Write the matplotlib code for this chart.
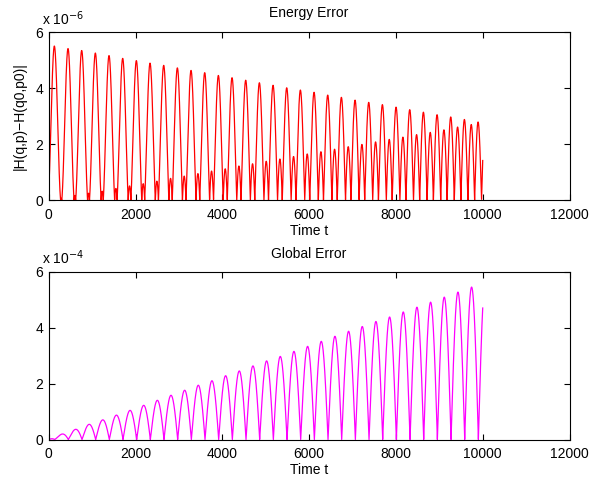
import numpy as np
import matplotlib
matplotlib.use("Agg")
import matplotlib.pyplot as plt

plt.rcParams['font.family'] = ['Liberation Sans', 'DejaVu Sans']
plt.rcParams['font.size'] = 10

# ---------------- data ----------------
t_end = 10000.0
period = 315.0                      # oscillation period in time units

# Energy error (units of 1e-6)
energy_first_peak_t = 128.0
energy_big_peaks = [5.51, 5.42, 5.35, 5.26, 5.17, 5.07, 4.99, 4.90, 4.82, 4.73,
                    4.64, 4.56, 4.46, 4.38, 4.29, 4.20, 4.11, 4.02, 3.94, 3.86,
                    3.76, 3.68, 3.58, 3.50, 3.42, 3.33, 3.24, 3.15, 3.06, 2.98,
                    2.89, 2.80]
energy_small_peaks = [0.08, 0.18, 0.26, 0.33, 0.43, 0.52, 0.60, 0.69, 0.79, 0.87,
                      0.96, 1.05, 1.13, 1.23, 1.31, 1.40, 1.48, 1.57, 1.66, 1.74,
                      1.83, 1.92, 2.00, 2.09, 2.18, 2.26, 2.35, 2.43, 2.52, 2.62,
                      2.71]
energy_start_value = 0.0

# Global error (units of 1e-4)
global_first_zero_t = 135.0
global_peaks = [0.19, 0.36, 0.54, 0.70, 0.87, 1.04, 1.22, 1.40, 1.58, 1.76,
                1.94, 2.10, 2.28, 2.45, 2.63, 2.81, 2.97, 3.15, 3.33, 3.51,
                3.69, 3.87, 4.04, 4.22, 4.38, 4.56, 4.73, 4.91, 5.09, 5.27,
                5.45]
global_start_value = 0.0

x_ticks = [0, 2000, 4000, 6000, 8000, 10000, 12000]
y_ticks = [0, 2, 4, 6]

# ---------------- build curves ----------------
t = np.linspace(0, t_end, 6001)

big_t = energy_first_peak_t + period * np.arange(len(energy_big_peaks))
small_t = big_t[:len(energy_small_peaks)] + period / 2
bigv = np.interp(t, big_t, energy_big_peaks)
smallv = np.interp(t, small_t, energy_small_peaks)
B = (bigv + smallv) / 2
c = (bigv - smallv) / 2
signed = c + B * np.cos(2 * np.pi * (t - energy_first_peak_t) / period)
energy = np.abs(signed)
energy[0] = energy_start_value

peak_t = global_first_zero_t + period / 2 + period * np.arange(len(global_peaks))
gp = np.asarray(global_peaks)
A = np.interp(t, np.r_[0.0, peak_t], np.r_[global_start_value, gp])
m = t > peak_t[-1]
A[m] = gp[-1] + (gp[-1] - gp[-2]) / period * (t[m] - peak_t[-1])
glob = A * np.abs(np.sin(np.pi * (t - global_first_zero_t) / period))

# ---------------- figure ----------------
fig = plt.figure(figsize=(5.93, 4.86), dpi=100)
W, H = 593.0, 486.0
left = 48.8 / W
width = (569.5 - 48.8) / W
ax1 = fig.add_axes([left, 1 - 200.5 / H, width, (200.5 - 32.3) / H])
ax2 = fig.add_axes([left, 1 - 439.5 / H, width, (439.5 - 271.7) / H])

def style(ax):
    ax.set_xlim(0, 12000)
    ax.set_ylim(0, 6)
    ax.set_xticks(x_ticks)
    ax.set_yticks(y_ticks)
    ax.tick_params(direction='in', top=True, right=True, length=4, width=0.8,
                   labelsize=10, pad=4)
    ax.tick_params(axis='x', pad=5.5)
    for s in ax.spines.values():
        s.set_linewidth(0.8)
    ax.set_xlabel('Time t', labelpad=1.5)

ax1.plot(t, energy, color='#ff0000', lw=0.9)
style(ax1)
ax1.set_title('Energy Error', fontsize=10, pad=11)
ax1.set_ylabel('|H(q,p)\u2212H(q0,p0)|', labelpad=6)
ax1.text(-0.013, 1.045, r'x 10$^{-6}$', transform=ax1.transAxes,
         ha='left', va='baseline', fontsize=10)

ax2.plot(t, glob, color='#ff00ff', lw=0.9)
style(ax2)
ax2.set_title('Global Error', fontsize=10, pad=10)
ax2.text(-0.013, 1.045, r'x 10$^{-4}$', transform=ax2.transAxes,
         ha='left', va='baseline', fontsize=10)

fig.savefig('out.png', dpi=100)
